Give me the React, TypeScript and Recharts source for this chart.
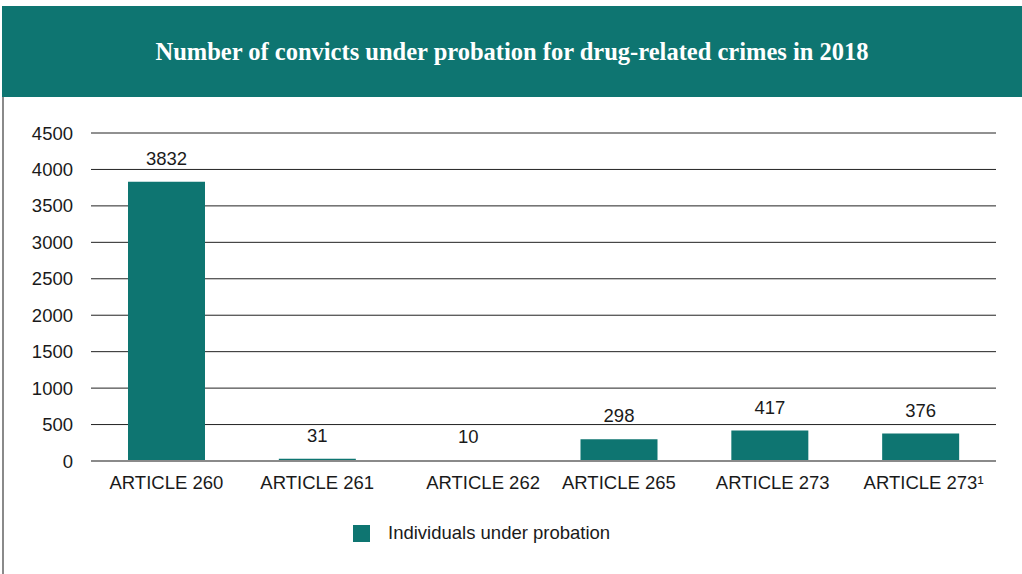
import { BarChart, Bar, XAxis, YAxis, CartesianGrid, LabelList } from 'recharts';

const TEAL = '#0e7571';

const articles = ['ARTICLE 260', 'ARTICLE 261', 'ARTICLE 262', 'ARTICLE 265', 'ARTICLE 273', 'ARTICLE 273¹'];
const probation = [3832, 31, 10, 298, 417, 376];
const yTicks = [0, 500, 1000, 1500, 2000, 2500, 3000, 3500, 4000, 4500];
// the source nudges a couple of category labels sideways
const labelShift = [0, 0, 15, 0, 3, 3];

const data = articles.map((name, i) => ({ name, value: probation[i] }));

const FONT = "'Liberation Sans', Arial, sans-serif";
const tickFont = { fill: '#1a1a1a', fontSize: 18.5, fontFamily: FONT };

function ArticleTick({ x, y, payload, index }: any) {
  return (
    <text x={x + (labelShift[index] || 0)} y={y} dy="0.71em" textAnchor="middle" {...tickFont}>
      {payload.value}
    </text>
  );
}

export default function App() {
  return (
    <div style={{ position: 'absolute', left: 0, top: 0, width: 1022, height: 574, background: '#fff', overflow: 'hidden' }}>
      <div style={{
        position: 'absolute', left: 2, top: 6, width: 1020, height: 91, background: TEAL,
        display: 'flex', alignItems: 'center', justifyContent: 'center',
        color: '#fff', fontFamily: "'Liberation Serif', 'Times New Roman', serif",
        fontWeight: 700, fontSize: 24.5,
      }}>
        Number of convicts under probation for drug-related crimes in 2018
      </div>
      <div style={{ position: 'absolute', left: 2, top: 97, width: 2, height: 477, background: '#8a8a8a' }} />
      <div style={{ position: 'absolute', left: 0, top: 0 }}>
        <BarChart
          width={1022}
          height={574}
          data={data}
          margin={{ top: 133, right: 26, bottom: 83, left: 0 }}
          barSize={77}
        >
          <CartesianGrid vertical={false} stroke="#222" strokeWidth={1} />
          <XAxis
            dataKey="name"
            height={30}
            axisLine={{ stroke: '#8a8a8a', strokeWidth: 2 }}
            tickLine={false}
            tickMargin={9}
            interval={0}
            tick={<ArticleTick />}
          />
          <YAxis
            width={91}
            domain={[0, 4500]}
            ticks={yTicks}
            axisLine={false}
            tickLine={false}
            tickSize={0}
            tickMargin={18}
            tick={tickFont}
          />
          <Bar dataKey="value" fill={TEAL} isAnimationActive={false}>
            <LabelList dataKey="value" position="top" offset={17} style={tickFont} fill="#1a1a1a" />
          </Bar>
        </BarChart>
      </div>
      <div style={{ position: 'absolute', left: 353, top: 522, display: 'flex', alignItems: 'center' }}>
        <div style={{ width: 17, height: 17, background: TEAL }} />
        <span style={{ marginLeft: 18, fontSize: 18.5, color: '#1a1a1a', fontFamily: FONT }}>
          Individuals under probation
        </span>
      </div>
    </div>
  );
}
